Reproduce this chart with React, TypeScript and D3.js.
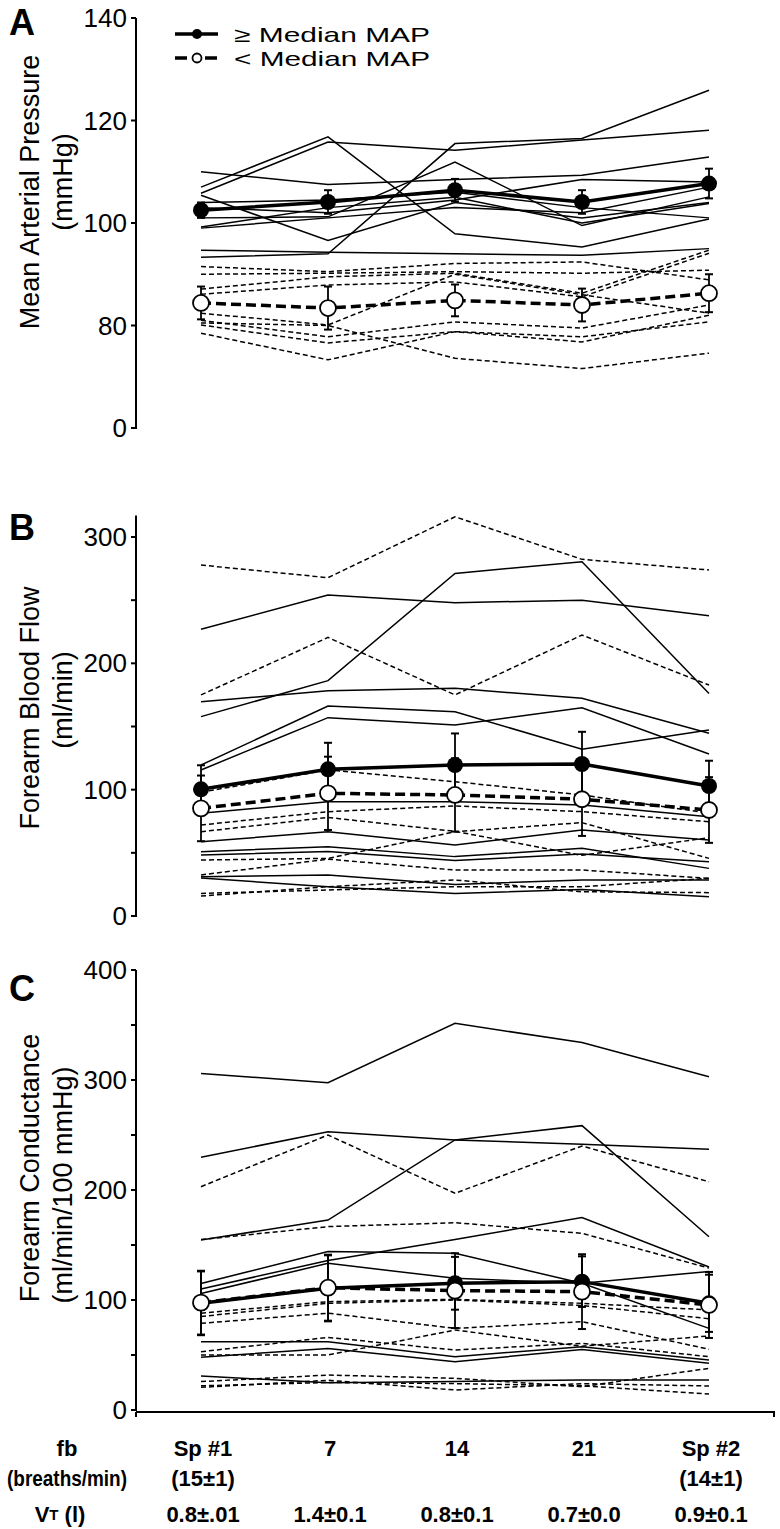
import React from 'react';
import * as d3 from 'd3';

// ---------- categories / labels ----------
const timepoints = ['Sp #1', '7', '14', '21', 'Sp #2'];
const fbSubLabels = ['(15±1)', '', '', '', '(14±1)'];
const vtLabels = ['0.8±.01', '1.4±0.1', '0.8±0.1', '0.7±0.0', '0.9±0.1'];
const legendLabels = ['≥ Median MAP', '< Median MAP'];

// ---------- Panel A: Mean arterial pressure (mmHg) ----------
const mapHighSubjects = [
  [107, 116.8, 97.9, 95.3, 100.8],
  [105.8, 115.8, 114.2, 116.2, 118.1],
  [93.3, 94, 115.5, 116.5, 125.9],
  [110, 107.5, 108.5, 109.3, 112.9],
  [101, 101.2, 111.9, 99.5, 105.1],
  [105.4, 96.6, 104, 101, 104],
  [94.7, 94.3, 94, 93.7, 95],
  [99.2, 103, 105, 100, 103.8],
  [99, 101, 103, 102, 107],
  [104, 104.5, 106, 103, 101],
  [103, 102, 104.5, 108.5, 108],
];
const mapLowSubjects = [
  [91.5, 90.5, 92.1, 92.4, 88.9],
  [90, 90.2, 90.5, 90.2, 90.8],
  [87.1, 89.5, 90.2, 86.3, 94.7],
  [86.1, 87.9, 88.5, 85.6, 94.1],
  [82.4, 80.1, 90, 86, 82.4],
  [81, 77.8, 80.7, 79.5, 84],
  [80.1, 76.6, 78.8, 77.8, 80.7],
  [78.5, 73.3, 78.8, 76.8, 82],
  [80.5, 80, 73.6, 71.6, 74.6],
];
const mapHighMean = [102.5, 104.1, 106.4, 104.1, 107.7];
const mapHighErr = [1.5, 2.3, 2.2, 2.3, 2.9];
const mapLowMean = [84.4, 83.4, 84.9, 84, 86.3];
const mapLowErr = [3.2, 4.2, 3.1, 3.2, 3.7];
const mapTicks = [60, 80, 100, 120, 140];
const mapTickLabels = ['0', '80', '100', '120', '140'];

// ---------- Panel B: Forearm blood flow (ml/min) ----------
const fbfHighSubjects = [
  [227, 254, 248, 250, 237.7],
  [157.8, 186.3, 271.2, 280.4, 176.2],
  [169.6, 178.3, 180.2, 172.3, 144.6],
  [119.5, 166.2, 161.7, 132, 147.2],
  [115.6, 157, 151.2, 164.9, 128.2],
  [81.3, 90.5, 90.5, 87.9, 78.6],
  [58.8, 66.7, 56.2, 68, 60.2],
  [50.9, 54.9, 47, 53.6, 37.7],
  [48.3, 51, 44, 49, 43],
  [31.1, 32.5, 25, 28.5, 28.5],
  [30, 23.2, 17.9, 21, 15.3],
];
const fbfLowSubjects = [
  [277.8, 267.8, 316, 282.3, 273.9],
  [175, 220.5, 175, 222.4, 182.8],
  [98, 115.6, 106.3, 95.8, 81.5],
  [72, 82.6, 87.1, 82.6, 74.6],
  [66.7, 78, 67, 48, 62],
  [44.3, 45.6, 66.7, 73.9, 45.6],
  [32.5, 45, 36.4, 36.4, 29.8],
  [17.9, 20.6, 23.2, 23.2, 29.8],
  [15.8, 23.2, 28.5, 19.2, 18.5],
];
const fbfHighMean = [100.3, 116.1, 119.5, 120.3, 102.9];
const fbfHighErr = [19, 21, 25, 25.5, 20];
const fbfLowMean = [85.2, 97.1, 95.8, 92.4, 83.9];
const fbfLowErr = [26, 29, 29, 29, 26];
const fbfTicks = [0, 50, 100, 150, 200, 250, 300];
const fbfLabelled = [0, 100, 200, 300];

// ---------- Panel C: Forearm conductance (ml/min/100 mmHg) ----------
const fvcHighSubjects = [
  [306, 297.5, 351.5, 334, 303],
  [229.7, 253, 245.5, 241.5, 237],
  [154.5, 172.7, 245.5, 258.5, 157.5],
  [115, 144, 142.4, 115.2, 125.8],
  [110, 136, 155, 175, 130],
  [106, 133.3, 119.7, 115.2, 74.2],
  [62.1, 62, 48.5, 57.6, 45.5],
  [47.9, 56, 43.9, 55, 42.4],
  [30.9, 24.8, 26, 27.3, 27.3],
];
const fvcLowSubjects = [
  [203, 250, 197, 240, 207.5],
  [155, 166.7, 170.3, 160.6, 129],
  [88, 98.5, 100.6, 97, 91],
  [85, 97, 100, 95, 83],
  [78.8, 88, 74.2, 80.3, 55.2],
  [53, 66, 54.5, 60.6, 48.5],
  [50, 50, 72.7, 58, 67.3],
  [25.8, 31.8, 28.8, 21.2, 37.9],
  [20.6, 27, 18.2, 24, 21.8],
  [22, 25, 24, 22, 14.5],
];
const fvcHighMean = [97, 110.6, 115.2, 116.7, 97];
const fvcHighErr = [29, 30, 24, 23, 26];
const fvcLowMean = [97.6, 111.2, 108.5, 107.6, 95.5];
const fvcLowErr = [29, 30, 34, 34, 30];
const fvcTicks = [0, 50, 100, 150, 200, 250, 300, 350, 400];
const fvcLabelled = [0, 100, 200, 300, 400];

// ---------- layout ----------
const W = 780;
const H = 1529;
const AXIS_X = 136;
const FONT = "'Liberation Sans', Arial, Helvetica, sans-serif";

const xScale = d3.scaleLinear().domain([0, timepoints.length - 1]).range([201, 709]);

type PanelProps = {
  letter: string;
  letterY: number;
  y: d3.ScaleLinear<number, number>;
  axisTop: number;
  ticks: number[];
  tickLabel: (v: number) => string;
  title: string;
  subtitle: string;
  titleY: number;
  subtitleY: number;
  high: number[][];
  low: number[][];
  highMean: number[];
  highErr: number[];
  lowMean: number[];
  lowErr: number[];
  xAxis?: boolean;
};

function Panel(p: PanelProps) {
  const line = d3
    .line<number>()
    .x((_, i) => xScale(i))
    .y((v) => p.y(v));
  const y0 = p.y.range()[0];
  return (
    <g>
      {/* axis */}
      <line x1={AXIS_X} x2={AXIS_X} y1={p.axisTop} y2={y0 + 1} stroke="#000" strokeWidth={2} />
      {p.ticks.map((t) => (
        <g key={t}>
          <line x1={AXIS_X - 5} x2={AXIS_X} y1={p.y(t)} y2={p.y(t)} stroke="#000" strokeWidth={2} />
          {p.tickLabel(t) !== '' && (
            <text
              x={AXIS_X - 9}
              y={p.y(t)}
              textAnchor="end"
              dominantBaseline="central"
              fontFamily={FONT}
              fontSize={26}
            >
              {p.tickLabel(t)}
            </text>
          )}
        </g>
      ))}
      {p.xAxis && (
        <g>
          <line x1={AXIS_X} x2={775} y1={y0 + 2} y2={y0 + 2} stroke="#000" strokeWidth={2} />
          <line x1={AXIS_X} x2={AXIS_X} y1={y0 + 2} y2={y0 + 7} stroke="#000" strokeWidth={2} />
          <line x1={774} x2={774} y1={y0 + 2} y2={y0 + 7} stroke="#000" strokeWidth={2} />
        </g>
      )}
      {/* letter */}
      <text x={9} y={p.letterY} fontFamily={FONT} fontWeight="bold" fontSize={36}>
        {p.letter}
      </text>
      {/* titles */}
      <text
        transform={`translate(30,${p.titleY}) rotate(-90)`}
        textAnchor="middle"
        dominantBaseline="central"
        fontFamily={FONT}
        fontSize={27}
      >
        {p.title}
      </text>
      <text
        transform={`translate(63,${p.subtitleY}) rotate(-90)`}
        textAnchor="middle"
        dominantBaseline="central"
        fontFamily={FONT}
        fontSize={27}
      >
        {p.subtitle}
      </text>
      {/* individual subjects */}
      {p.high.map((s, i) => (
        <path key={'h' + i} d={line(s) || ''} fill="none" stroke="#000" strokeWidth={1.5} />
      ))}
      {p.low.map((s, i) => (
        <path
          key={'l' + i}
          d={line(s) || ''}
          fill="none"
          stroke="#000"
          strokeWidth={1.5}
          strokeDasharray="5,3"
        />
      ))}
      {/* group means */}
      <path d={line(p.highMean) || ''} fill="none" stroke="#000" strokeWidth={3.5} />
      <path
        d={line(p.lowMean) || ''}
        fill="none"
        stroke="#000"
        strokeWidth={3.5}
        strokeDasharray="10,5"
      />
      {[
        { mean: p.highMean, err: p.highErr },
        { mean: p.lowMean, err: p.lowErr },
      ].map((g, gi) =>
        g.mean.map((m, i) => {
          const cx = xScale(i);
          const yt = p.y(m + g.err[i]);
          const yb = p.y(m - g.err[i]);
          return (
            <g key={`e${gi}-${i}`}>
              <line x1={cx} x2={cx} y1={yt} y2={yb} stroke="#000" strokeWidth={1.8} />
              <line x1={cx - 4} x2={cx + 4} y1={yt} y2={yt} stroke="#000" strokeWidth={2} />
              <line x1={cx - 4} x2={cx + 4} y1={yb} y2={yb} stroke="#000" strokeWidth={2} />
            </g>
          );
        })
      )}
      {p.highMean.map((m, i) => (
        <circle key={'hm' + i} cx={xScale(i)} cy={p.y(m)} r={8} fill="#000" />
      ))}
      {p.lowMean.map((m, i) => (
        <circle
          key={'lm' + i}
          cx={xScale(i)}
          cy={p.y(m)}
          r={8}
          fill="#fff"
          stroke="#000"
          strokeWidth={1.8}
        />
      ))}
    </g>
  );
}

export default function App() {
  const yA = d3.scaleLinear().domain([60, 140]).range([428, 18]);
  const yB = d3.scaleLinear().domain([0, 300]).range([916, 537]);
  const yC = d3.scaleLinear().domain([0, 400]).range([1410, 970]);

  const boldFont = { fontFamily: FONT, fontWeight: 'bold' as const, fontSize: 22 };

  return (
    <svg
      width={W}
      height={H}
      viewBox={`0 0 ${W} ${H}`}
      style={{ position: 'absolute', left: 0, top: 0, background: '#fff' }}
    >
      <rect x={0} y={0} width={W} height={H} fill="#fff" />
      <Panel
        letter="A"
        letterY={35}
        y={yA}
        axisTop={18}
        ticks={mapTicks}
        tickLabel={(v) => mapTickLabels[mapTicks.indexOf(v)]}
        title="Mean Arterial Pressure"
        subtitle="(mmHg)"
        titleY={192}
        subtitleY={182}
        high={mapHighSubjects}
        low={mapLowSubjects}
        highMean={mapHighMean}
        highErr={mapHighErr}
        lowMean={mapLowMean}
        lowErr={mapLowErr}
      />
      <Panel
        letter="B"
        letterY={540}
        y={yB}
        axisTop={yB(317)}
        ticks={fbfTicks}
        tickLabel={(v) => (fbfLabelled.includes(v) ? String(v) : '')}
        title="Forearm Blood Flow"
        subtitle="(ml/min)"
        titleY={708}
        subtitleY={700}
        high={fbfHighSubjects}
        low={fbfLowSubjects}
        highMean={fbfHighMean}
        highErr={fbfHighErr}
        lowMean={fbfLowMean}
        lowErr={fbfLowErr}
      />
      <Panel
        letter="C"
        letterY={1001}
        y={yC}
        axisTop={970}
        ticks={fvcTicks}
        tickLabel={(v) => (fvcLabelled.includes(v) ? String(v) : '')}
        title="Forearm Conductance"
        subtitle="(ml/min/100 mmHg)"
        titleY={1168}
        subtitleY={1185}
        high={fvcHighSubjects}
        low={fvcLowSubjects}
        highMean={fvcHighMean}
        highErr={fvcHighErr}
        lowMean={fvcLowMean}
        lowErr={fvcLowErr}
        xAxis
      />
      {/* legend */}
      <g>
        <line x1={175} x2={218} y1={34} y2={34} stroke="#000" strokeWidth={3.5} />
        <circle cx={197} cy={34} r={5} fill="#000" />
        <text
          x={234}
          y={34}
          dominantBaseline="central"
          fontFamily={FONT}
          fontSize={21}
          textLength={196}
          lengthAdjust="spacingAndGlyphs"
        >
          {legendLabels[0]}
        </text>
        <line x1={175} x2={220} y1={58} y2={58} stroke="#000" strokeWidth={3.5} strokeDasharray="12,5,8,5" />
        <circle cx={197} cy={58} r={4.5} fill="#fff" stroke="#000" strokeWidth={1.8} />
        <text
          x={234}
          y={58}
          dominantBaseline="central"
          fontFamily={FONT}
          fontSize={21}
          textLength={196}
          lengthAdjust="spacingAndGlyphs"
        >
          {legendLabels[1]}
        </text>
      </g>
      {/* bottom labels */}
      <g {...boldFont}>
        <text x={67} y={1448} textAnchor="middle" dominantBaseline="central">fb</text>
        <text
          x={67}
          y={1478}
          textAnchor="middle"
          dominantBaseline="central"
          textLength={120}
          lengthAdjust="spacingAndGlyphs"
        >
          (breaths/min)
        </text>
        <text x={60} y={1514} textAnchor="middle" dominantBaseline="central">
          V<tspan fontSize={15}>T</tspan> (l)
        </text>
        {timepoints.map((t, i) => (
          <text key={'t' + i} x={xScale(i) + 2} y={1448} textAnchor="middle" dominantBaseline="central">
            {t}
          </text>
        ))}
        {fbSubLabels.map((t, i) => (
          <text key={'s' + i} x={xScale(i) + 2} y={1478} textAnchor="middle" dominantBaseline="central">
            {t}
          </text>
        ))}
        {vtLabels.map((t, i) => (
          <text key={'v' + i} x={xScale(i) + 2} y={1514} textAnchor="middle" dominantBaseline="central">
            {t}
          </text>
        ))}
      </g>
    </svg>
  );
}
